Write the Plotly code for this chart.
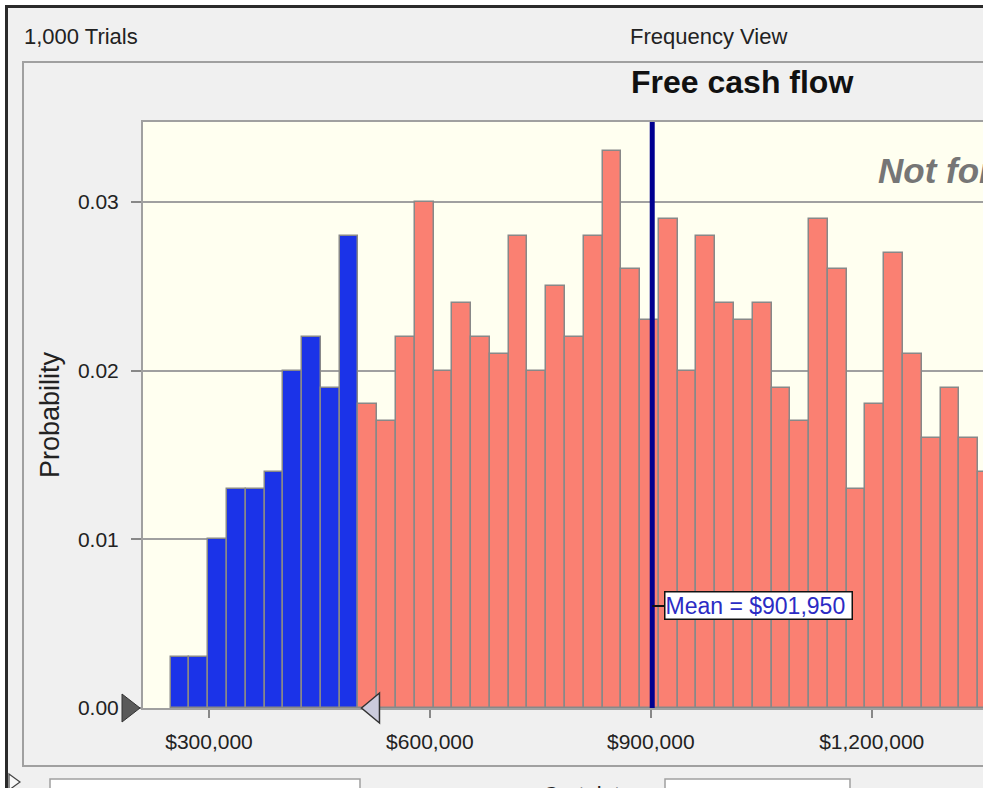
import plotly.graph_objects as go

# Crystal Ball forecast: Free cash flow, 1,000 trials, frequency view
blue_probs = [0.003, 0.003, 0.010, 0.013, 0.013, 0.014, 0.020, 0.022, 0.019, 0.028]
red_probs = [0.018, 0.017, 0.022, 0.030, 0.020, 0.024, 0.022, 0.021, 0.028, 0.020,
             0.025, 0.022, 0.028, 0.033, 0.026, 0.023, 0.029, 0.020, 0.028, 0.024,
             0.023, 0.024, 0.019, 0.017, 0.029, 0.026, 0.013, 0.018, 0.027, 0.021,
             0.016, 0.019, 0.016, 0.014]
bin_start = 248000
bin_width = 25500
mean_value = 901950
x_ticks = [300000, 600000, 900000, 1200000]
x_tick_text = [f"${v:,}" for v in x_ticks]
y_ticks = [0.00, 0.01, 0.02, 0.03]

W, H = 983, 788
L, R, T, B = 143, 0, 122, 80
PW, PH = W - L - R, H - T - B
x_min, x_max = 210365, 1351170
y_max = 0.03474

FONT = "Liberation Sans, Arial, sans-serif"
GRAY = "#a0a0a0"


def px(xp):
    return (xp - L) / PW


def py(yp):
    return (H - B - yp) / PH


n_blue = len(blue_probs)
blue_x = [bin_start + (i + 0.5) * bin_width for i in range(n_blue)]
red_x = [bin_start + (n_blue + i + 0.5) * bin_width for i in range(len(red_probs))]
certainty_upper = bin_start + n_blue * bin_width
grab_px = L + (certainty_upper - x_min) / (x_max - x_min) * PW

fig = go.Figure()
fig.add_trace(go.Bar(x=blue_x, y=blue_probs, width=bin_width,
                     marker=dict(color="#1b33e8", line=dict(color="#888888", width=1.5))))
fig.add_trace(go.Bar(x=red_x, y=red_probs, width=bin_width,
                     marker=dict(color="#fa8072", line=dict(color="#888888", width=1.5))))

# mean line
fig.add_trace(go.Scatter(x=[mean_value, mean_value], y=[0, y_max], mode="lines",
                         line=dict(color="#000090", width=5), hoverinfo="skip"))

shapes = [
    dict(type="rect", xref="paper", yref="paper", x0=px(0), x1=px(W + 10), y0=py(0), y1=py(5),
         fillcolor="white", line_width=0, layer="below"),
    dict(type="rect", xref="paper", yref="paper", x0=px(0), x1=px(5), y0=py(0), y1=py(H + 10),
         fillcolor="white", line_width=0, layer="below"),
    dict(type="line", xref="paper", yref="paper", x0=px(5), x1=px(W + 10), y0=py(6.5), y1=py(6.5),
         line=dict(color="#2a2a2a", width=3)),
    dict(type="line", xref="paper", yref="paper", x0=px(6.5), x1=px(6.5), y0=py(5), y1=py(H + 10),
         line=dict(color="#2a2a2a", width=3)),
    dict(type="rect", xref="paper", yref="paper", x0=px(23), x1=px(W + 30), y0=py(62), y1=py(766),
         line=dict(color=GRAY, width=2), layer="below"),
    dict(type="rect", xref="paper", yref="paper", x0=px(50), x1=px(360), y0=py(779), y1=py(H + 10),
         fillcolor="white", line=dict(color=GRAY, width=1.5)),
    dict(type="rect", xref="paper", yref="paper", x0=px(665), x1=px(850), y0=py(779), y1=py(H + 10),
         fillcolor="white", line=dict(color=GRAY, width=1.5)),
    dict(type="path", xref="paper", yref="paper",
         path=f"M {px(9)},{py(774)} L {px(20)},{py(782)} L {px(9)},{py(790)} Z",
         fillcolor="#f8f8f8", line=dict(color="#444444", width=1.2)),
    # lower certainty grabber (left of axis)
    dict(type="path", xref="paper", yref="paper",
         path=f"M {px(122)},{py(694)} L {px(140)},{py(708)} L {px(122)},{py(722)} Z",
         fillcolor="#5a5a5a", line=dict(color="#333333", width=1)),
    # upper certainty grabber at the blue/red boundary
    dict(type="path", xref="paper", yref="paper",
         path=(f"M {px(grab_px + 3)},{py(708)} L {px(grab_px + 21)},{py(693)} "
               f"L {px(grab_px + 21)},{py(723)} Z"),
         fillcolor="#cbcbdc", line=dict(color="#333333", width=1.5)),
]

annotations = [
    dict(text="1,000 Trials", xref="paper", yref="paper", x=px(22), y=py(36),
         xanchor="left", yanchor="middle", showarrow=False,
         font=dict(family=FONT, size=22, color="#222222")),
    dict(text="Frequency View", xref="paper", yref="paper", x=px(708), y=py(36),
         xanchor="center", yanchor="middle", showarrow=False,
         font=dict(family=FONT, size=22, color="#222222")),
    dict(text="<b>Free cash flow</b>", xref="paper", yref="paper", x=px(742), y=py(82),
         xanchor="center", yanchor="middle", showarrow=False,
         font=dict(family=FONT, size=32, color="#111111")),
    dict(text="<b><i>Not for Commercial Use</i></b>", xref="paper", yref="paper",
         x=px(876), y=py(170), xanchor="left", yanchor="middle", showarrow=False,
         font=dict(family=FONT, size=35, color="#767676")),
    dict(text="Probability", xref="paper", yref="paper", x=px(50), y=py(415),
         xanchor="center", yanchor="middle", textangle=-90, showarrow=False,
         font=dict(family=FONT, size=27, color="#222222")),
    dict(text=f"Mean = ${mean_value:,} ", x=mean_value, y=0.00605, xref="x", yref="y",
         showarrow=True, arrowhead=0, arrowwidth=2, arrowcolor="#111111", ax=12, ay=0,
         xanchor="left", yanchor="middle", bgcolor="white", bordercolor="#111111",
         borderwidth=1.5, borderpad=0,
         font=dict(family=FONT, size=23, color="#2b2bc4")),
    dict(text="Certainty:", xref="paper", yref="paper", x=px(590), y=py(795),
         xanchor="center", yanchor="middle", showarrow=False,
         font=dict(family=FONT, size=22, color="#222222")),
]

fig.update_layout(
    width=W, height=H,
    margin=dict(l=L, r=R, t=T, b=B, pad=0),
    paper_bgcolor="#f0f0f0",
    plot_bgcolor="#fffff0",
    showlegend=False,
    bargap=0,
    barmode="overlay",
    font=dict(family=FONT, size=22, color="#222222"),
    shapes=shapes,
    annotations=annotations,
)
fig.update_xaxes(
    range=[x_min, x_max], tickvals=x_ticks, ticktext=x_tick_text,
    ticks="outside", ticklen=8, tickwidth=1.5, tickcolor="#888888", ticklabelstandoff=6,
    showgrid=False, zeroline=False, showline=True, mirror=True, linecolor=GRAY, linewidth=2,
    tickfont=dict(family=FONT, size=21, color="#222222"),
)
fig.update_yaxes(
    range=[0, y_max], tickvals=y_ticks, tickformat=".2f",
    ticks="outside", ticklen=10, tickwidth=1.5, tickcolor="#888888", ticklabelstandoff=8,
    showgrid=True, gridcolor=GRAY, gridwidth=1.5, zeroline=False,
    showline=True, mirror=False, linecolor=GRAY, linewidth=2,
    tickfont=dict(family=FONT, size=21, color="#222222"),
)

fig.write_html("out.html", config={"displayModeBar": False},
               post_script="document.body.style.margin = '0';")
